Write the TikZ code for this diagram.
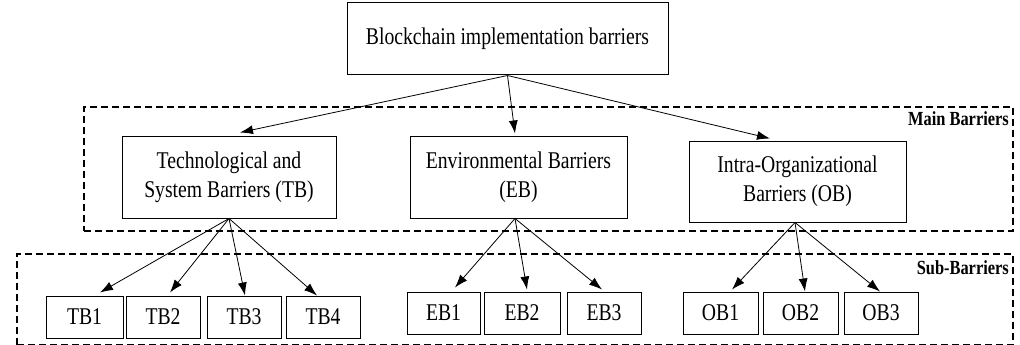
\documentclass[tikz,border=0pt]{standalone}
\usepackage{fontspec}
\setmainfont{Liberation Serif}[FakeStretch=0.82]
\usepackage{tikz}
\usetikzlibrary{arrows.meta}

\begin{document}
\begin{tikzpicture}[x=1pt,y=-1pt,
		barrier/.style={rectangle, draw, line width=1pt, align=center, inner sep=0pt, font=\fontsize{24}{29}\selectfont},
		frame/.style={rectangle, draw, line width=2pt, dash pattern=on 7pt off 4pt, inner sep=0pt},
		framelabel/.style={anchor=east, inner sep=0pt, font=\fontsize{20}{22}\selectfont\bfseries},
		link/.style={line width=0.8pt, -{Latex[length=13pt,width=9pt]}}]
		
		\useasboundingbox (0,0) rectangle (1020,345);
		
		% Frames
		
		\node[frame, minimum width=929pt, minimum height=124pt] 
		(mainFrame) at (548.5,169) {};
		\node[framelabel] (mainLabel) at (1009,119) {Main Barriers};
		
		\node[frame, minimum width=996pt, minimum height=91pt] 
		(subFrame) at (515,299.5) {};
		\node[framelabel] (subLabel) at (1009,268) {Sub-Barriers};
		
		% Top
		
		\node[barrier, fill=white, minimum width=321pt, minimum height=72pt] 
		(topNode) at (507.5,39) {Blockchain implementation barriers};
		
		% Main barriers
		
		\node[barrier, fill=white, minimum width=214pt, minimum height=82pt] 
		(TB) at (229,177) {Technological and\\System Barriers (TB)};
		
		\node[barrier, fill=white, minimum width=217pt, minimum height=82pt] 
		(EB) at (518.5,177) {Environmental Barriers\\(EB)};
		
		\node[barrier, fill=white, minimum width=217pt, minimum height=81pt] 
		(OB) at (797.5,181.5) {Intra-Organizational\\Barriers (OB)};
		
		% Sub barriers
		
		\node[barrier, minimum width=77pt, minimum height=42pt] (TB1) at (84.5,317) {TB1};
		\node[barrier, minimum width=74pt, minimum height=42pt] (TB2) at (163,317) {TB2};
		\node[barrier, minimum width=74pt, minimum height=42pt] (TB3) at (244,317) {TB3};
		\node[barrier, minimum width=74pt, minimum height=42pt] (TB4) at (323,317) {TB4};
		
		\node[barrier, minimum width=73pt, minimum height=42pt] (EB1) at (443.5,313) {EB1};
		\node[barrier, minimum width=76pt, minimum height=42pt] (EB2) at (522,313) {EB2};
		\node[barrier, minimum width=74pt, minimum height=42pt] (EB3) at (604,313) {EB3};
		
		\node[barrier, minimum width=75pt, minimum height=42pt] (OB1) at (720.5,313) {OB1};
		\node[barrier, minimum width=75pt, minimum height=42pt] (OB2) at (800.5,313) {OB2};
		\node[barrier, minimum width=74pt, minimum height=42pt] (OB3) at (881,313) {OB3};
		
		% Arrows
		
		\draw[link] (topNode.south) -- ([xshift=11pt,yshift=3pt]TB.north);
		\draw[link] (topNode.south) -- ([xshift=-3.5pt,yshift=2pt]EB.north);
		\draw[link] (topNode.south) -- ([xshift=-27.5pt,yshift=2pt]OB.north);
		
		\draw[link] (TB.south) -- ([xshift=15.5pt,yshift=3pt]TB1.north);
		\draw[link] (TB.south) -- ([xshift=7pt,yshift=3pt]TB2.north);
		\draw[link] (TB.south) -- ([xshift=1pt]TB3.north);
		\draw[link] (TB.south) -- ([xshift=-6pt]TB4.north);
		
		\draw[link] ([xshift=-3.5pt]EB.south) -- ([xshift=11.5pt,yshift=4pt]EB1.north);
		\draw[link] ([xshift=-3.5pt]EB.south) -- ([xshift=5pt,yshift=2pt]EB2.north);
		\draw[link] ([xshift=-3.5pt]EB.south) -- ([xshift=-2pt,yshift=2pt]EB3.north);
		
		\draw[link] ([xshift=-2.5pt]OB.south) -- ([xshift=11.5pt,yshift=2pt]OB1.north);
		\draw[link] ([xshift=-2.5pt]OB.south) -- ([xshift=4.5pt]OB2.north);
		\draw[link] ([xshift=-2.5pt]OB.south) -- ([xshift=-1pt]OB3.north);
		
	\end{tikzpicture}
\end{document}
